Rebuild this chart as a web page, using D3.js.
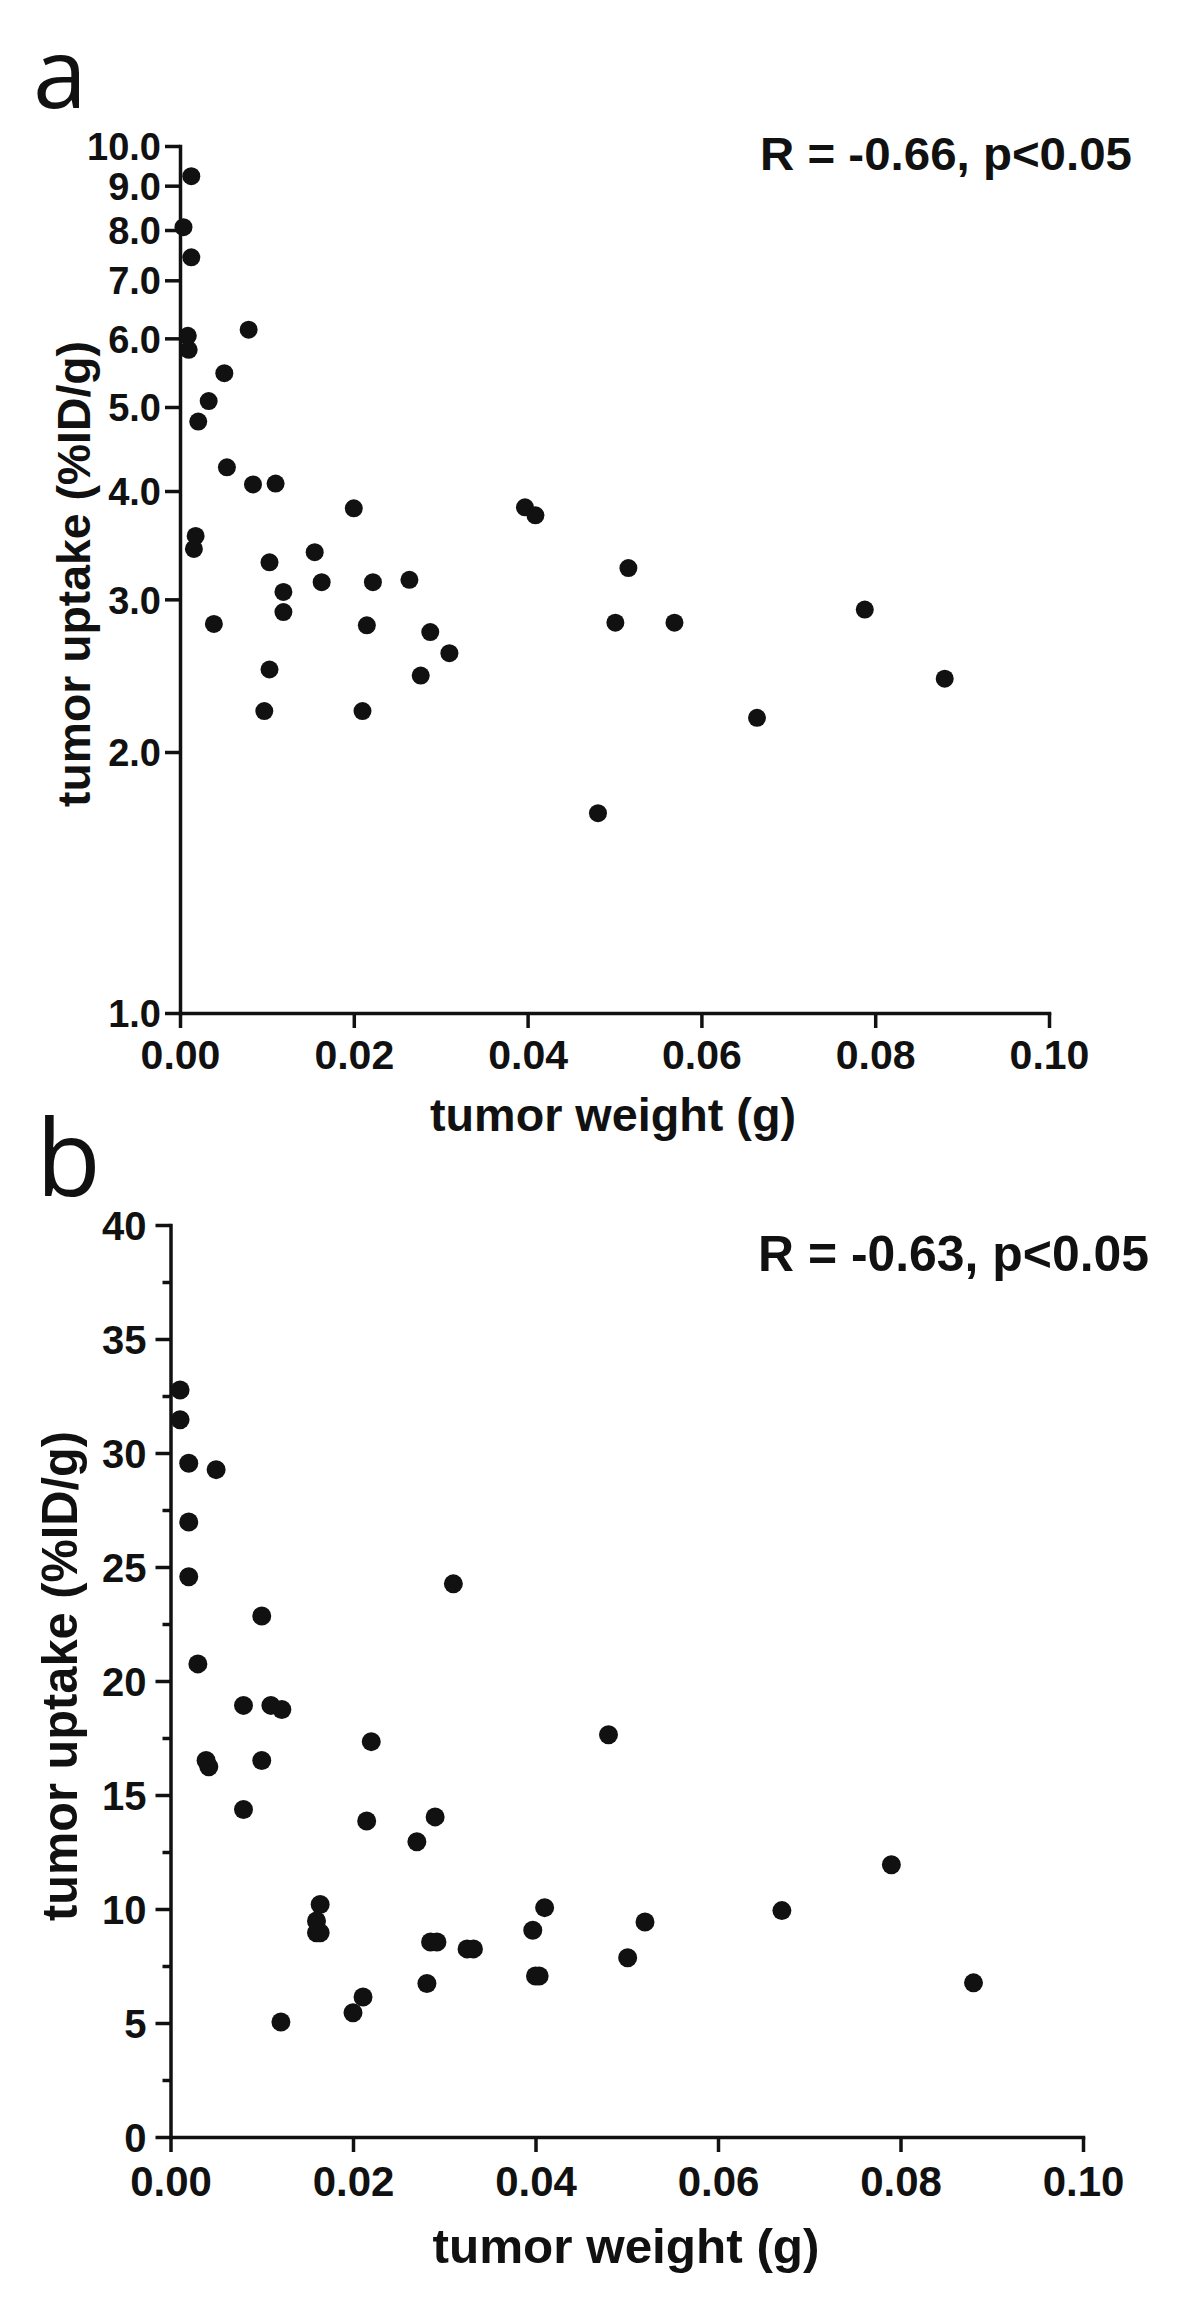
<!DOCTYPE html>
<html>
<head>
<meta charset="utf-8">
<script src="https://cdn.jsdelivr.net/npm/d3@7"></script>
<style>
  html, body { margin: 0; padding: 0; background: #fff; }
  svg { display: block; }
  text { font-family: "Liberation Sans", Arial, sans-serif; font-weight: bold; fill: #111; }
  .letter { font-family: "Open Sans", "Noto Sans", sans-serif; font-weight: normal; }
</style>
</head>
<body>
<svg id="chart" width="1200" height="2304"></svg>
<script>
// ---------------- data ----------------
const panelLetters = ["a", "b"];
const statLabels = ["R = -0.66, p<0.05", "R = -0.63, p<0.05"];
const xTitle = "tumor weight (g)";
const yTitle = "tumor uptake (%ID/g)";

const xTicks = [0, 0.02, 0.04, 0.06, 0.08, 0.10];
const aYTicks = [1, 2, 3, 4, 5, 6, 7, 8, 9, 10];
const bYTicks = [0, 5, 10, 15, 20, 25, 30, 35, 40];
const bYMinorTicks = [2.5, 7.5, 12.5, 17.5, 22.5, 27.5, 32.5, 37.5];

// panel a: tumor weight (g) vs tumor uptake (%ID/g), log y-axis
const aWeight = [0.0013, 0.0004, 0.0013, 0.0009, 0.0010, 0.0079, 0.0051, 0.0033, 0.0021, 0.0054,
                 0.0084, 0.0110, 0.0200, 0.0397, 0.0409, 0.0018, 0.0016, 0.0103, 0.0155, 0.0163,
                 0.0222, 0.0264, 0.0119, 0.0119, 0.0039, 0.0215, 0.0288, 0.0310, 0.0103, 0.0277,
                 0.0097, 0.0210, 0.0516, 0.0501, 0.0569, 0.0788, 0.0880, 0.0664, 0.0481];
const aUptake = [9.23, 8.06, 7.44, 6.04, 5.82, 6.14, 5.47, 5.08, 4.81, 4.26,
                 4.07, 4.08, 3.82, 3.83, 3.75, 3.55, 3.43, 3.31, 3.40, 3.14,
                 3.14, 3.16, 3.06, 2.90, 2.81, 2.80, 2.75, 2.60, 2.49, 2.45,
                 2.23, 2.23, 3.26, 2.82, 2.82, 2.92, 2.43, 2.19, 1.70];

// panel b: tumor weight (g) vs tumor uptake (%ID/g), linear y-axis
const bWeight = [0.00105, 0.00105, 0.0020, 0.0050, 0.0020, 0.0020, 0.0310, 0.0100, 0.0030, 0.0080,
                 0.0110, 0.0122, 0.0220, 0.0039, 0.0042, 0.0100, 0.0080, 0.0215, 0.0290, 0.0270,
                 0.0164, 0.0160, 0.0160, 0.0164, 0.0285, 0.0292, 0.0325, 0.0332, 0.0397, 0.0410,
                 0.0400, 0.0404, 0.0281, 0.0211, 0.0200, 0.0121, 0.0480, 0.0790, 0.0670, 0.0520,
                 0.0501, 0.0880];
const bUptake = [32.76, 31.46, 29.55, 29.27, 26.97, 24.57, 24.26, 22.85, 20.75, 18.93,
                 18.93, 18.75, 17.34, 16.51, 16.24, 16.51, 14.36, 13.86, 14.04, 12.95,
                 10.20, 9.47, 8.96, 8.96, 8.55, 8.55, 8.25, 8.25, 9.07, 10.06,
                 7.06, 7.06, 6.73, 6.14, 5.45, 5.04, 17.64, 11.94, 9.93, 9.43,
                 7.86, 6.76];

// ---------------- drawing ----------------
const svg = d3.select("#chart");
const AXW = 3.5;

function styleAxis(g) {
  g.selectAll("path.domain").attr("stroke", "#111").attr("stroke-width", AXW).attr("stroke-linecap", "square");
  g.selectAll(".tick line").attr("stroke", "#111").attr("stroke-width", AXW);
}

function drawPanel(cfg) {
  const g = svg.append("g");
  const x = d3.scaleLinear().domain([0, 0.10]).range(cfg.xRange);
  const y = cfg.yScale;

  // x axis
  const gx = g.append("g").attr("transform", `translate(0,${cfg.yBottom})`)
    .call(d3.axisBottom(x).tickValues(xTicks).tickFormat(d3.format(".2f")).tickSize(15).tickSizeOuter(0));
  styleAxis(gx);
  gx.selectAll(".tick text").attr("y", cfg.xLabelY).attr("dy", 0)
    .style("font-size", cfg.xLabelSize + "px").attr("fill", "#111");

  // y axis
  const gy = g.append("g").attr("transform", `translate(${cfg.xLeft},0)`)
    .call(d3.axisLeft(y).tickValues(cfg.yTicks).tickFormat(cfg.yFormat).tickSize(15).tickSizeOuter(0));
  styleAxis(gy);
  gy.selectAll(".tick text").attr("x", -cfg.yLabelOffset).attr("dy", "0.36em")
    .style("font-size", cfg.yLabelSize + "px").attr("fill", "#111");

  if (cfg.yMinor) {
    const gm = g.append("g").attr("transform", `translate(${cfg.xLeft},0)`)
      .call(d3.axisLeft(y).tickValues(cfg.yMinor).tickFormat("").tickSize(8).tickSizeOuter(0));
    gm.select("path.domain").remove();
    styleAxis(gm);
  }

  // axis titles
  g.append("text")
    .attr("x", cfg.xTitleX).attr("y", cfg.xTitleY)
    .attr("text-anchor", "middle")
    .style("font-size", cfg.xTitleSize + "px")
    .attr("textLength", cfg.xTitleLen).attr("lengthAdjust", "spacingAndGlyphs")
    .text(xTitle);

  g.append("text")
    .attr("transform", `translate(${cfg.yTitleX},${cfg.yTitleY}) rotate(-90)`)
    .attr("text-anchor", "middle")
    .style("font-size", cfg.yTitleSize + "px")
    .attr("textLength", cfg.yTitleLen).attr("lengthAdjust", "spacingAndGlyphs")
    .text(yTitle);

  // stat annotation
  g.append("text")
    .attr("x", cfg.statX).attr("y", cfg.statY)
    .style("font-size", cfg.statSize + "px")
    .attr("textLength", cfg.statLen).attr("lengthAdjust", "spacingAndGlyphs")
    .text(cfg.stat);

  // panel letter
  g.append("text").attr("class", "letter")
    .attr("x", cfg.letterX).attr("y", cfg.letterY)
    .style("font-size", cfg.letterSize + "px")
    .text(cfg.letter);

  // points
  const pts = cfg.xs.map((v, i) => ({ w: v, u: cfg.ys[i] }));
  g.append("g").selectAll("circle").data(pts).join("circle")
    .attr("cx", d => x(d.w)).attr("cy", d => y(d.u))
    .attr("r", cfg.r).attr("fill", "#111");
}

drawPanel({
  letter: panelLetters[0], letterX: 33, letterY: 108, letterSize: 97,
  stat: statLabels[0], statX: 760, statY: 170, statSize: 47, statLen: 372,
  xRange: [180, 1049], yBottom: 1013, xLeft: 180,
  yScale: d3.scaleLog().domain([1, 10]).range([1013, 146]),
  yTicks: aYTicks, yFormat: d3.format(".1f"), yLabelSize: 38, yLabelOffset: 19,
  xLabelY: 56, xLabelSize: 41,
  xTitleX: 613, xTitleY: 1131, xTitleSize: 47, xTitleLen: 366,
  yTitleX: 90, yTitleY: 574, yTitleSize: 47, yTitleLen: 466,
  xs: aWeight, ys: aUptake, r: 9
});

drawPanel({
  letter: panelLetters[1], letterX: 36, letterY: 1196, letterSize: 106,
  stat: statLabels[1], statX: 758, statY: 1271, statSize: 50, statLen: 391,
  xRange: [170.5, 1083], yBottom: 2137, xLeft: 170.5,
  yScale: d3.scaleLinear().domain([0, 40]).range([2137, 1225]),
  yTicks: bYTicks, yFormat: d3.format("d"), yLabelSize: 40, yLabelOffset: 24, yMinor: bYMinorTicks,
  xLabelY: 59, xLabelSize: 42,
  xTitleX: 626, xTitleY: 2263, xTitleSize: 49, xTitleLen: 387,
  yTitleX: 77, yTitleY: 1676, yTitleSize: 50, yTitleLen: 490,
  xs: bWeight, ys: bUptake, r: 9.5
});
</script>
</body>
</html>
